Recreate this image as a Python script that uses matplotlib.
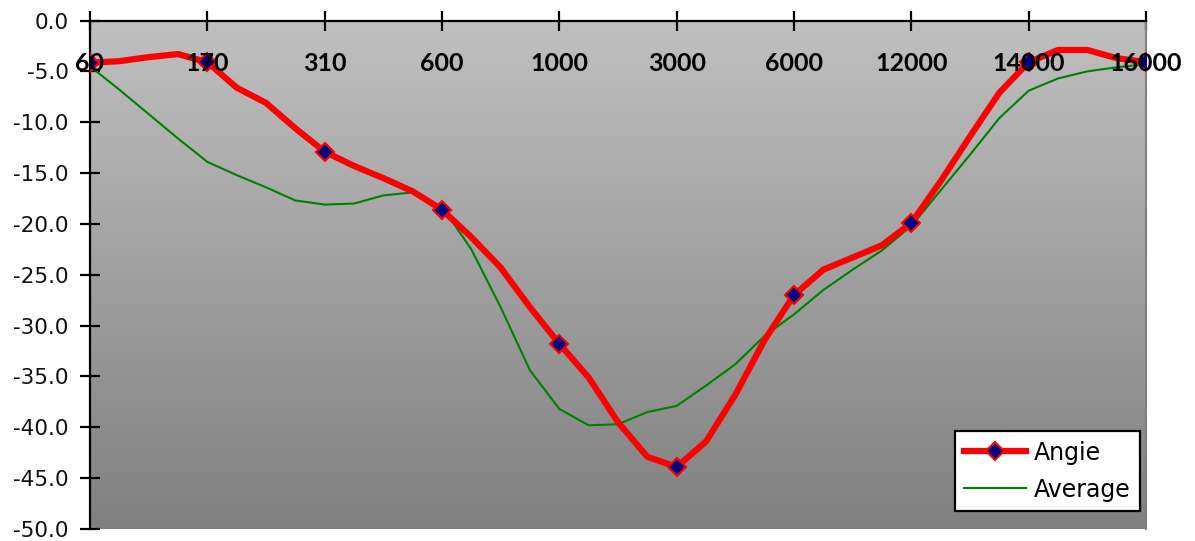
# ==========================================
# EQUALIZER CURVE - ANGIE VS AVERAGE
# ==========================================

import numpy as np
import matplotlib.pyplot as plt
from matplotlib.colors import LinearSegmentedColormap

# ==========================================
# DATA (4 samples per band)
# ==========================================

band_labels = ['60', '170', '310', '600', '1000', '3000', '6000', '12000', '14000', '16000']

angie = [-4.15, -4.0, -3.6, -3.3,
         -4.1, -6.6, -8.1, -10.6,
         -12.9, -14.3, -15.5, -16.8,
         -18.6, -21.3, -24.3, -28.2,
         -31.8, -35.1, -39.5, -42.9,
         -43.9, -41.4, -36.8, -31.4,
         -27.0, -24.5, -23.3, -22.1,
         -19.9, -15.8, -11.4, -7.1,
         -4.1, -2.9, -2.9, -3.7,
         -4.1]

average = [-4.5, -6.8, -9.2, -11.6,
           -13.9, -15.2, -16.4, -17.7,
           -18.1, -18.0, -17.2, -16.9,
           -18.3, -22.5, -28.2, -34.4,
           -38.2, -39.8, -39.7, -38.5,
           -37.9, -35.9, -33.8, -31.0,
           -28.9, -26.5, -24.5, -22.6,
           -20.2, -16.7, -13.2, -9.6,
           -6.9, -5.7, -5.0, -4.6,
           -4.3]

samples_per_band = 4
x = np.arange(len(angie)) / samples_per_band
band_pos = np.arange(len(band_labels))

# ==========================================
# FIGURE
# ==========================================

fig = plt.figure(figsize=(11.95, 5.41), dpi=100)
ax = fig.add_axes([0.0753, 0.0222, 0.8837, 0.9399])

# gradient background
grad = LinearSegmentedColormap.from_list('bg', ['#808080', '#c0c0c0'])
ax.imshow(np.linspace(0, 1, 256).reshape(-1, 1), cmap=grad, aspect='auto',
          extent=[0, 1, 0, 1], transform=ax.transAxes, origin='lower', zorder=0)

ax.plot(x, average, color='#008000', lw=1.5, label='Average', zorder=2,
        solid_joinstyle='round')
ax.plot(x, angie, color='#ff0000', lw=4.5, marker='D', markevery=samples_per_band,
        ms=9, mfc='#000080', mec='#ff0000', mew=1.5, label='Angie', zorder=3,
        solid_joinstyle='round')

ax.set_xlim(0, len(band_labels) - 1)
ax.set_ylim(-50, 0)

# axes styling
ax.spines['bottom'].set_visible(False)
ax.spines['left'].set_linewidth(1.6)
ax.spines['top'].set_linewidth(1.6)
ax.spines['right'].set_color('#808080')
ax.spines['right'].set_linewidth(1.5)

ax.set_yticks(np.arange(-50, 1, 5))
ax.set_yticklabels(['%.1f' % v for v in np.arange(-50, 1, 5)])
ax.tick_params(axis='y', direction='inout', length=14, width=1.6, pad=8.5,
               labelsize=15.5, labelcolor='#111111')

ax.xaxis.tick_top()
ax.set_xticks(band_pos)
ax.tick_params(axis='x', direction='inout', length=14, width=1.6, labeltop=False)

for i, lab in enumerate(band_labels):
    ax.text(i, 0.9007, lab, transform=ax.get_xaxis_transform(), ha='center',
            va='baseline', fontsize=18, fontweight='bold', family=['Lato', 'DejaVu Sans'],
            zorder=4)

handles, labels = ax.get_legend_handles_labels()
leg = ax.legend(handles[::-1], labels[::-1], loc='lower right',
                bbox_to_anchor=(0.9943, 0.0354), borderaxespad=0, fontsize=17,
                frameon=True, fancybox=False, handlelength=2.6, handletextpad=0.35,
                labelspacing=0.55, borderpad=0.4)
leg.get_frame().set_edgecolor('black')
leg.get_frame().set_linewidth(1.6)
leg.get_frame().set_alpha(1)

plt.savefig('out.png', dpi=100)
